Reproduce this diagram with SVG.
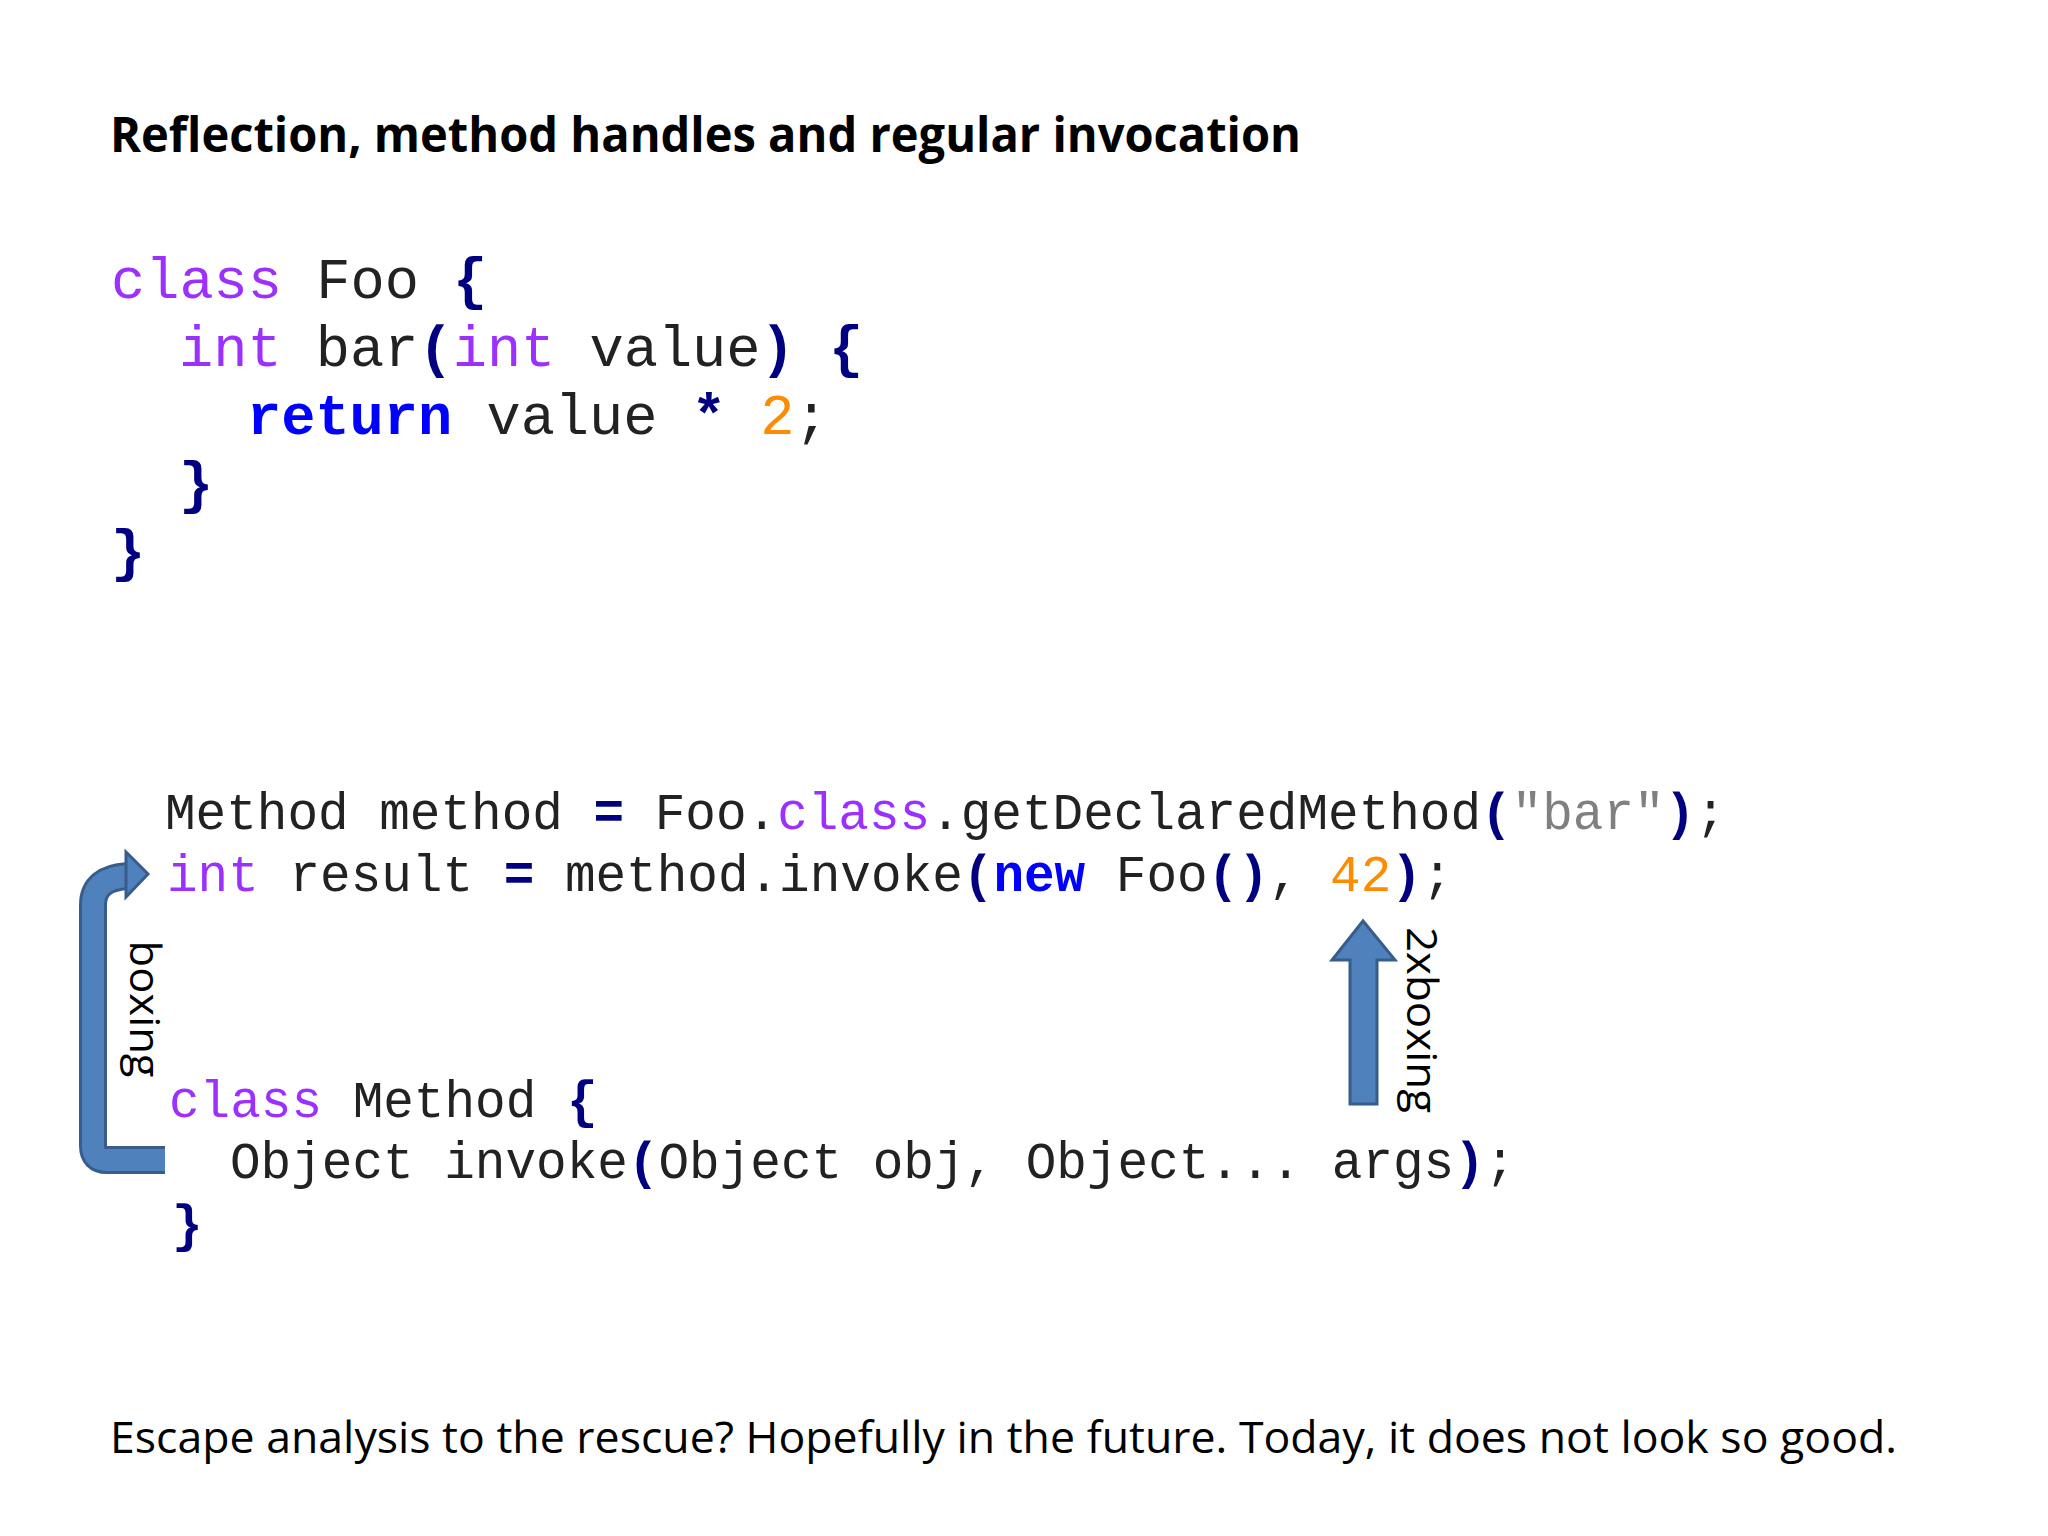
<svg xmlns="http://www.w3.org/2000/svg" width="2048" height="1536" viewBox="0 0 2048 1536">
<style>
.t{font-family:"Open Sans","Liberation Sans",sans-serif;fill:#000}
.c{font-family:"Liberation Mono","Courier New",monospace;fill:#222;white-space:pre}
.k{fill:#9b30ff}.b{fill:#000080;font-weight:bold}.kw{fill:#0000ff;font-weight:bold}.n{fill:#ff8c00}.s{fill:#808080}
</style>
<rect width="2048" height="1536" fill="#fff"/>
<g id="title"><text class="t" x="110" y="152" font-size="48" font-weight="bold" textLength="1191" lengthAdjust="spacingAndGlyphs">Reflection, method handles and regular invocation</text></g>
<g id="foo" class="c" font-size="57">
<text x="111" y="298"><tspan class="k">class</tspan> Foo <tspan class="b">{</tspan></text>
<text x="179" y="366"><tspan class="k">int</tspan> bar<tspan class="b">(</tspan><tspan class="k">int</tspan> value<tspan class="b">)</tspan> <tspan class="b">{</tspan></text>
<text x="247" y="434"><tspan class="kw">return</tspan> value <tspan class="b">*</tspan> <tspan class="n">2</tspan>;</text>
<text x="179" y="502" class="b">}</text>
<text x="111" y="570" class="b">}</text>
</g>
<g id="invoke" class="c" font-size="51">
<text x="165" y="829">Method method <tspan class="b">=</tspan> Foo.<tspan class="k">class</tspan>.getDeclaredMethod<tspan class="b">(</tspan><tspan class="s">"bar"</tspan><tspan class="b">)</tspan>;</text>
<text x="167" y="891"><tspan class="k">int</tspan> result <tspan class="b">=</tspan> method.invoke<tspan class="b">(</tspan><tspan class="kw">new</tspan> Foo<tspan class="b">()</tspan>, <tspan class="n">42</tspan><tspan class="b">)</tspan>;</text>
</g>
<g id="method" class="c" font-size="51">
<text x="169" y="1117"><tspan class="k">class</tspan> Method <tspan class="b">{</tspan></text>
<text x="230" y="1178">Object invoke<tspan class="b">(</tspan>Object obj, Object... args<tspan class="b">)</tspan>;</text>
<text x="172" y="1241" class="b">}</text>
</g>
<g id="connectors">
<path d="M165,1160 H107 Q93,1160 93,1146 V905 Q93,878 128,876" fill="none" stroke="#385d8a" stroke-width="28"/>
<path d="M165,1160 H107 Q93,1160 93,1146 V905 Q93,878 128,876" fill="none" stroke="#4f81bd" stroke-width="22"/>
<polygon points="126,852 148,874 126,897" fill="#4f81bd" stroke="#385d8a" stroke-width="3"/>
<polygon points="1350,1104 1350,960 1332,960 1363,921 1395,960 1377,960 1377,1104" fill="#4f81bd" stroke="#385d8a" stroke-width="3"/>
</g>
<g id="labels">
<text class="t" font-size="42" text-anchor="middle" textLength="137" lengthAdjust="spacingAndGlyphs" transform="translate(130,1009) rotate(90)">boxing</text>
<text class="t" font-size="42" text-anchor="middle" textLength="186" lengthAdjust="spacingAndGlyphs" transform="translate(1407,1020) rotate(90)">2xboxing</text>
</g>
<g id="footer"><text class="t" x="110" y="1453" font-size="44" textLength="1787" lengthAdjust="spacingAndGlyphs">Escape analysis to the rescue? Hopefully in the future. Today, it does not look so good.</text></g>
</svg>
